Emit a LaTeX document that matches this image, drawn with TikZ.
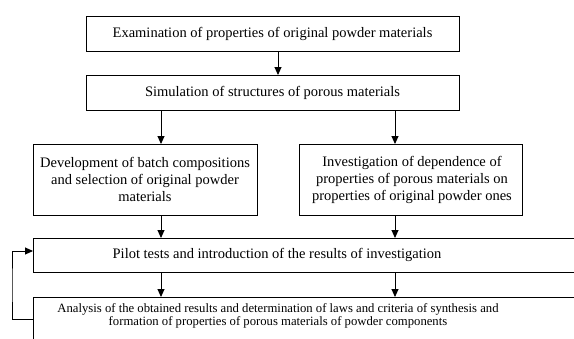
\documentclass[tikz,border=0pt]{standalone}
\usepackage{fontspec}
\setmainfont{Liberation Serif}
\usetikzlibrary{arrows.meta}
\begin{document}
\begin{tikzpicture}[x=1pt,y=-1pt,
  box/.style={draw,line width=0.9pt,rectangle,inner sep=0pt,outer sep=0pt},
  txt/.style={font=\fontsize{14.5}{17}\selectfont,align=center,inner sep=0pt},
  small/.style={font=\fontsize{12.7}{12.5}\selectfont,align=center,inner sep=0pt},
  arr/.style={line width=0.9pt,-{Triangle[length=8pt,width=7pt]}}]
\useasboundingbox (0,0) rectangle (574,338);
\fill[white] (0,0) rectangle (574,338);
\coordinate (c1) at (278,0);
\coordinate (cl) at (161,0);
\coordinate (cr) at (395,0);
\coordinate (fb) at (12,0);
\node[box,minimum width=373pt,minimum height=35pt] (b1) at (272.5,33.5) {};
\node[txt] (t1) at (272.5,33.5) {Examination of properties of original powder materials};
\node[box,minimum width=373pt,minimum height=35pt] (b2) at (272.5,92.5) {};
\node[txt] (t2) at (272.5,92.5) {Simulation of structures of porous materials};
\node[box,minimum width=224pt,minimum height=71pt] (bl) at (145,179.5) {};
\node[txt] (tl) at (145,179.5) {Development of batch compositions\\and selection of original powder\\materials};
\node[box,minimum width=223pt,minimum height=71pt] (br) at (410.5,179.5) {};
\node[txt] (tr) at (412,179.5) {Investigation of dependence of\\properties of porous materials on\\properties of original powder ones};
\node[box,minimum width=567pt,minimum height=34pt] (pilot) at (316.5,255) {};
\node[txt] (tp) at (277,255) {Pilot tests and introduction of the results of investigation};
\node[box,minimum width=567pt,minimum height=83pt] (anal) at (316.5,338.5) {};
\node[small] (ta) at (278,316) {Analysis of the obtained results and determination of laws and criteria of synthesis and\\formation of properties of porous materials of powder components};
\draw[arr] (b1.south -| c1) -- (b2.north -| c1);
\draw[arr] (b2.south -| cl) -- (bl.north -| cl);
\draw[arr] (b2.south -| cr) -- (br.north -| cr);
\draw[arr] (bl.south -| cl) -- (pilot.north -| cl);
\draw[arr] (br.south -| cr) -- (pilot.north -| cr);
\draw[arr] (pilot.south -| cl) -- (anal.north -| cl);
\draw[arr] (pilot.south -| cr) -- (anal.north -| cr);
\draw[arr] (anal.west |- 0,319) -| (fb |- 0,285) |- (pilot.west |- 0,251);
\end{tikzpicture}
\end{document}
